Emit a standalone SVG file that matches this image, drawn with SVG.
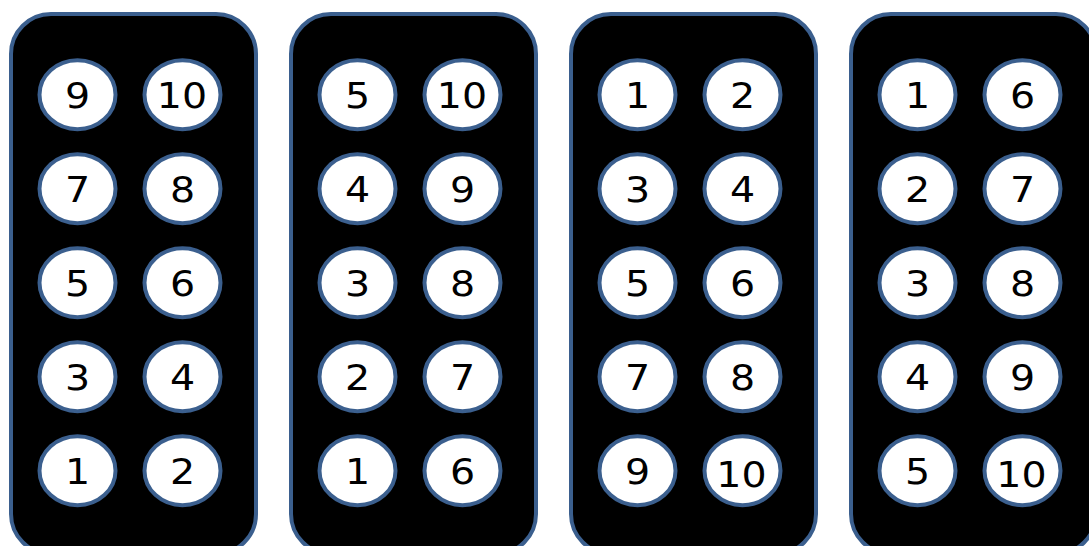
<svg xmlns="http://www.w3.org/2000/svg" width="1089" height="546" viewBox="0 0 1089 546">
<style>
.panel{fill:#000;stroke:#3b5f8e;stroke-width:4}
.key{fill:#fff;stroke:#3b5f8e;stroke-width:4}
.lbl{font-family:"DejaVu Sans",sans-serif;font-size:35px;fill:#000;text-anchor:middle}
</style>
<rect width="1089" height="546" fill="#fff"/>
<g id="panel1">
<rect class="panel" x="11" y="14" width="245" height="540" rx="40"/>
<g id="p1k9"><ellipse class="key" cx="77.5" cy="94.7" rx="38" ry="34.5"/><text class="lbl" transform="translate(77.5 107.5) scale(1.13 1)">9</text></g>
<g id="p1k10"><ellipse class="key" cx="182.5" cy="94.7" rx="38" ry="34.5"/><text class="lbl" transform="translate(182 107.5) scale(1.13 1)">10</text></g>
<g id="p1k7"><ellipse class="key" cx="77.5" cy="188.7" rx="38" ry="34.5"/><text class="lbl" transform="translate(77.5 201.5) scale(1.13 1)">7</text></g>
<g id="p1k8"><ellipse class="key" cx="182.5" cy="188.7" rx="38" ry="34.5"/><text class="lbl" transform="translate(182.5 201.5) scale(1.13 1)">8</text></g>
<g id="p1k5"><ellipse class="key" cx="77.5" cy="282.7" rx="38" ry="34.5"/><text class="lbl" transform="translate(77.5 295.5) scale(1.13 1)">5</text></g>
<g id="p1k6"><ellipse class="key" cx="182.5" cy="282.7" rx="38" ry="34.5"/><text class="lbl" transform="translate(182.5 295.5) scale(1.13 1)">6</text></g>
<g id="p1k3"><ellipse class="key" cx="77.5" cy="376.7" rx="38" ry="34.5"/><text class="lbl" transform="translate(77.5 389.5) scale(1.13 1)">3</text></g>
<g id="p1k4"><ellipse class="key" cx="182.5" cy="376.7" rx="38" ry="34.5"/><text class="lbl" transform="translate(182.5 389.5) scale(1.13 1)">4</text></g>
<g id="p1k1"><ellipse class="key" cx="77.5" cy="470.7" rx="38" ry="34.5"/><text class="lbl" transform="translate(77.5 483.5) scale(1.13 1)">1</text></g>
<g id="p1k2"><ellipse class="key" cx="182.5" cy="470.7" rx="38" ry="34.5"/><text class="lbl" transform="translate(182.5 483.5) scale(1.13 1)">2</text></g>
</g>
<g id="panel2">
<rect class="panel" x="291" y="14" width="245" height="540" rx="40"/>
<g id="p2k5"><ellipse class="key" cx="357.5" cy="94.7" rx="38" ry="34.5"/><text class="lbl" transform="translate(357.5 107.5) scale(1.13 1)">5</text></g>
<g id="p2k10"><ellipse class="key" cx="462.5" cy="94.7" rx="38" ry="34.5"/><text class="lbl" transform="translate(462 107.5) scale(1.13 1)">10</text></g>
<g id="p2k4"><ellipse class="key" cx="357.5" cy="188.7" rx="38" ry="34.5"/><text class="lbl" transform="translate(357.5 201.5) scale(1.13 1)">4</text></g>
<g id="p2k9"><ellipse class="key" cx="462.5" cy="188.7" rx="38" ry="34.5"/><text class="lbl" transform="translate(462.5 201.5) scale(1.13 1)">9</text></g>
<g id="p2k3"><ellipse class="key" cx="357.5" cy="282.7" rx="38" ry="34.5"/><text class="lbl" transform="translate(357.5 295.5) scale(1.13 1)">3</text></g>
<g id="p2k8"><ellipse class="key" cx="462.5" cy="282.7" rx="38" ry="34.5"/><text class="lbl" transform="translate(462.5 295.5) scale(1.13 1)">8</text></g>
<g id="p2k2"><ellipse class="key" cx="357.5" cy="376.7" rx="38" ry="34.5"/><text class="lbl" transform="translate(357.5 389.5) scale(1.13 1)">2</text></g>
<g id="p2k7"><ellipse class="key" cx="462.5" cy="376.7" rx="38" ry="34.5"/><text class="lbl" transform="translate(462.5 389.5) scale(1.13 1)">7</text></g>
<g id="p2k1"><ellipse class="key" cx="357.5" cy="470.7" rx="38" ry="34.5"/><text class="lbl" transform="translate(357.5 483.5) scale(1.13 1)">1</text></g>
<g id="p2k6"><ellipse class="key" cx="462.5" cy="470.7" rx="38" ry="34.5"/><text class="lbl" transform="translate(462.5 483.5) scale(1.13 1)">6</text></g>
</g>
<g id="panel3">
<rect class="panel" x="571" y="14" width="245" height="540" rx="40"/>
<g id="p3k1"><ellipse class="key" cx="637.5" cy="94.7" rx="38" ry="34.5"/><text class="lbl" transform="translate(637.5 107.5) scale(1.13 1)">1</text></g>
<g id="p3k2"><ellipse class="key" cx="742.5" cy="94.7" rx="38" ry="34.5"/><text class="lbl" transform="translate(742.5 107.5) scale(1.13 1)">2</text></g>
<g id="p3k3"><ellipse class="key" cx="637.5" cy="188.7" rx="38" ry="34.5"/><text class="lbl" transform="translate(637.5 201.5) scale(1.13 1)">3</text></g>
<g id="p3k4"><ellipse class="key" cx="742.5" cy="188.7" rx="38" ry="34.5"/><text class="lbl" transform="translate(742.5 201.5) scale(1.13 1)">4</text></g>
<g id="p3k5"><ellipse class="key" cx="637.5" cy="282.7" rx="38" ry="34.5"/><text class="lbl" transform="translate(637.5 295.5) scale(1.13 1)">5</text></g>
<g id="p3k6"><ellipse class="key" cx="742.5" cy="282.7" rx="38" ry="34.5"/><text class="lbl" transform="translate(742.5 295.5) scale(1.13 1)">6</text></g>
<g id="p3k7"><ellipse class="key" cx="637.5" cy="376.7" rx="38" ry="34.5"/><text class="lbl" transform="translate(637.5 389.5) scale(1.13 1)">7</text></g>
<g id="p3k8"><ellipse class="key" cx="742.5" cy="376.7" rx="38" ry="34.5"/><text class="lbl" transform="translate(742.5 389.5) scale(1.13 1)">8</text></g>
<g id="p3k9"><ellipse class="key" cx="637.5" cy="470.7" rx="38" ry="34.5"/><text class="lbl" transform="translate(637.5 483.5) scale(1.13 1)">9</text></g>
<g id="p3k10"><ellipse class="key" cx="742.5" cy="470.7" rx="38" ry="34.5"/><text class="lbl" transform="translate(741.5 486.5) scale(1.13 1)">10</text></g>
</g>
<g id="panel4">
<rect class="panel" x="851" y="14" width="245" height="540" rx="40"/>
<g id="p4k1"><ellipse class="key" cx="917.5" cy="94.7" rx="38" ry="34.5"/><text class="lbl" transform="translate(917.5 107.5) scale(1.13 1)">1</text></g>
<g id="p4k6"><ellipse class="key" cx="1022.5" cy="94.7" rx="38" ry="34.5"/><text class="lbl" transform="translate(1022.5 107.5) scale(1.13 1)">6</text></g>
<g id="p4k2"><ellipse class="key" cx="917.5" cy="188.7" rx="38" ry="34.5"/><text class="lbl" transform="translate(917.5 201.5) scale(1.13 1)">2</text></g>
<g id="p4k7"><ellipse class="key" cx="1022.5" cy="188.7" rx="38" ry="34.5"/><text class="lbl" transform="translate(1022.5 201.5) scale(1.13 1)">7</text></g>
<g id="p4k3"><ellipse class="key" cx="917.5" cy="282.7" rx="38" ry="34.5"/><text class="lbl" transform="translate(917.5 295.5) scale(1.13 1)">3</text></g>
<g id="p4k8"><ellipse class="key" cx="1022.5" cy="282.7" rx="38" ry="34.5"/><text class="lbl" transform="translate(1022.5 295.5) scale(1.13 1)">8</text></g>
<g id="p4k4"><ellipse class="key" cx="917.5" cy="376.7" rx="38" ry="34.5"/><text class="lbl" transform="translate(917.5 389.5) scale(1.13 1)">4</text></g>
<g id="p4k9"><ellipse class="key" cx="1022.5" cy="376.7" rx="38" ry="34.5"/><text class="lbl" transform="translate(1022.5 389.5) scale(1.13 1)">9</text></g>
<g id="p4k5"><ellipse class="key" cx="917.5" cy="470.7" rx="38" ry="34.5"/><text class="lbl" transform="translate(917.5 483.5) scale(1.13 1)">5</text></g>
<g id="p4k10"><ellipse class="key" cx="1022.5" cy="470.7" rx="38" ry="34.5"/><text class="lbl" transform="translate(1021.5 486.5) scale(1.13 1)">10</text></g>
</g>
<g id="connectors"/>
</svg>
